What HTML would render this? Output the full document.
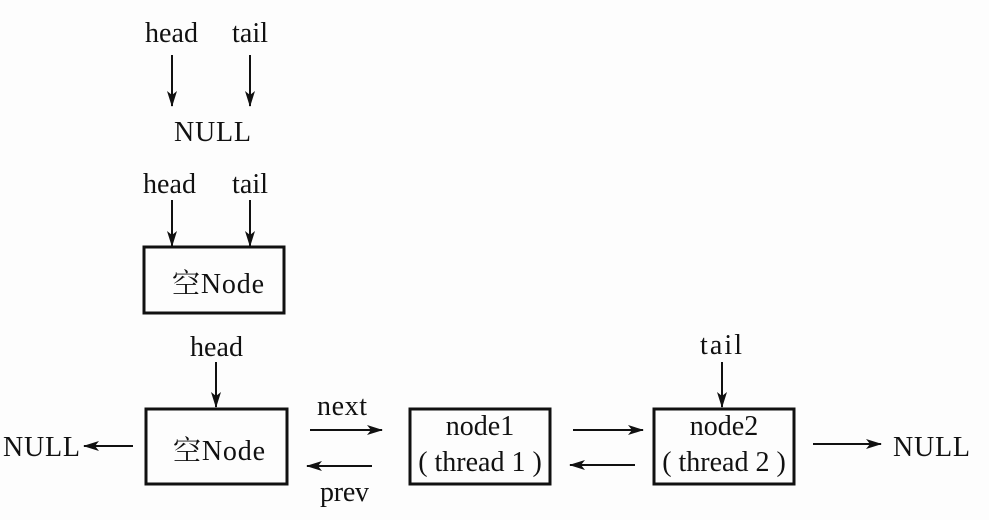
<!DOCTYPE html>
<html><head><meta charset="utf-8"><style>
html,body{margin:0;padding:0;background:#fdfdfd;}
text{font-family:"Liberation Serif","Noto Serif CJK SC",serif;font-size:28px;fill:#111;}
</style></head><body>
<svg width="989" height="515" viewBox="0 0 989 515">
<defs><marker id="a" markerWidth="16" markerHeight="10" refX="15" refY="5" orient="auto" markerUnits="userSpaceOnUse"><path d="M0,0 L16,5 L0,10 L4,5 Z" fill="#111"/></marker></defs>
<g stroke="#111" stroke-width="2" fill="none">
<line x1="172" y1="55" x2="172" y2="106" marker-end="url(#a)"/>
<line x1="250" y1="55" x2="250" y2="106" marker-end="url(#a)"/>
<line x1="172" y1="200" x2="172" y2="246" marker-end="url(#a)"/>
<line x1="250" y1="200" x2="250" y2="246" marker-end="url(#a)"/>
<rect x="144" y="247" width="140" height="66" stroke-width="3"/>
<line x1="216" y1="362" x2="216" y2="407" marker-end="url(#a)"/>
<rect x="146" y="409" width="141" height="75" stroke-width="3"/>
<line x1="133" y1="446" x2="84" y2="446" marker-end="url(#a)"/>
<line x1="310" y1="430" x2="382" y2="430" marker-end="url(#a)"/>
<line x1="372" y1="466" x2="307" y2="466" marker-end="url(#a)"/>
<rect x="410" y="409" width="140" height="75" stroke-width="3"/>
<line x1="573" y1="430" x2="643" y2="430" marker-end="url(#a)"/>
<line x1="635" y1="465" x2="570" y2="465" marker-end="url(#a)"/>
<rect x="654" y="409" width="140" height="75" stroke-width="3"/>
<line x1="722" y1="362" x2="722" y2="407" marker-end="url(#a)"/>
<line x1="813" y1="444" x2="881" y2="444" marker-end="url(#a)"/>
</g>
<text x="145" y="42" textLength="53">head</text>
<text x="232" y="42" textLength="36">tail</text>
<text x="174" y="141" textLength="77">NULL</text>
<text x="143" y="193" textLength="53">head</text>
<text x="232" y="193" textLength="36">tail</text>
<text x="172" y="293" textLength="92">空Node</text>
<text x="190" y="356" textLength="53">head</text>
<text x="700" y="354" textLength="42">tail</text>
<text x="3" y="456" textLength="77">NULL</text>
<text x="173" y="460" textLength="92">空Node</text>
<text x="317" y="415" textLength="50">next</text>
<text x="320" y="501" textLength="49">prev</text>
<text x="480" y="435" text-anchor="middle">node1</text>
<text x="480" y="471" text-anchor="middle">( thread 1 )</text>
<text x="724" y="435" text-anchor="middle">node2</text>
<text x="724" y="471" text-anchor="middle">( thread 2 )</text>
<text x="893" y="456" textLength="77">NULL</text>
</svg>
</body></html>
